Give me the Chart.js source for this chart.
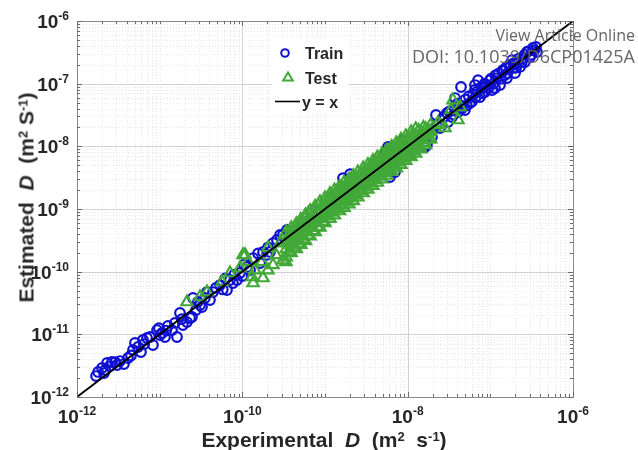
<!DOCTYPE html>
<html><head><meta charset="utf-8">
<script src="https://cdn.jsdelivr.net/npm/chart.js@4/dist/chart.umd.min.js"></script>
<style>
html,body{margin:0;padding:0;background:#fff;}
#wrap{position:relative;width:638px;height:450px;overflow:hidden;background:#fff;}
canvas{position:absolute;left:0;top:0;}
.t{position:absolute;font-family:"Liberation Sans",Arial,sans-serif;font-weight:bold;color:#262626;white-space:pre;line-height:21px;font-size:21px;text-align:center;}
.sup{position:relative;top:-0.5em;font-size:13px;}
.wm{position:absolute;right:3px;font-family:"Open Sans",sans-serif;color:#666;white-space:pre;font-weight:400;}
</style></head>
<body><div id="wrap"><canvas id="c" width="638" height="450"></canvas>
<div class="t" style="left:24px;top:429px;width:600px;">Experimental  <i>D</i>  (m<span class="sup">2</span>  s<span class="sup">-1</span>)</div>
<div class="t" style="left:-124px;top:187px;width:300px;height:21px;transform:rotate(-90deg);">Estimated  <i>D</i>  (m<span class="sup">2</span> S<span class="sup">-1</span>)</div>
<div class="wm" style="top:27px;font-size:16px;line-height:16px;">View Article Online</div>
<div class="wm" style="top:47px;font-size:18px;line-height:18px;">DOI: 10.1039/D6CP01425A</div>
</div>
<script>
// ---- data ----
const trainX = [1.70e-12,1.80e-12,2.01e-12,2.12e-12,2.31e-12,2.51e-12,2.65e-12,3.05e-12,3.31e-12,3.70e-12,
 4.14e-12,4.76e-12,5.03e-12,5.47e-12,5.94e-12,6.29e-12,7.03e-12,7.64e-12,8.30e-12,9.29e-12,
 1.01e-11,1.07e-11,1.16e-11,1.26e-11,1.41e-11,1.53e-11,1.62e-11,1.76e-11,1.91e-11,2.14e-11,
 2.33e-11,2.46e-11,2.53e-11,2.75e-11,3.08e-11,3.25e-11,3.53e-11,3.74e-11,4.06e-11,4.42e-11,
 5.37e-11,6.52e-11,7.10e-11,8.61e-11,9.37e-11,1.14e-10,1.35e-10,1.78e-10,1.99e-10,2.35e-10,
 2.86e-10,3.47e-10,1.64e-10,2.16e-10,2.62e-10,3.10e-10,7.71e-11,1.24e-10,4.99e-10,6.97e-10,
 8.69e-10,1.65e-9,2.01e-9,5.78e-9,7.03e-9,6.11e-9,1.71e-8,2.26e-8,2.99e-8,1.97e-8,
 1.62e-8,5.47e-9,5.73e-10,1.15e-9,2.65e-9,4.03e-9,1.07e-8,8.77e-9,3.74e-8,7.10e-8,
 3.28e-7,2.10e-7,1.42e-7,9.12e-8,1.21e-7,1.73e-7,2.48e-7,2.77e-7,5.68e-8,7.50e-8,
 1.05e-7,1.31e-7,1.59e-7,1.99e-7,2.29e-7,3.02e-7,3.66e-7,4.93e-8,3.44e-8,3.08e-8,
 4.30e-8,6.17e-8,8.15e-8,3.56e-7,1.83e-7,9.91e-8,6.52e-8,2.67e-8,4.06e-8,1.50e-7,
 1.14e-7,8.61e-8,2.62e-7,2.46e-8,2.20e-8,4.42e-8,6.52e-8,1.93e-7,1.55e-10,2.05e-10,
 2.8e-8,3.2e-8,3.6e-8,4.0e-8,4.5e-8,5.0e-8,5.5e-8,6.0e-8,7.0e-8,7.8e-8,
 8.5e-8,9.5e-8,1.02e-7,1.1e-7,1.25e-7,1.35e-7,1.45e-7,1.6e-7,1.7e-7,1.9e-7,
 2.05e-7,2.2e-7,2.4e-7,2.6e-7,2.9e-7,3.1e-7,3.4e-7,5.2e-8,6.6e-8,8.0e-8,
 1.15e-7,1.55e-7,2.2e-12,2.9e-12,4.5e-12,6.5e-12,9.8e-12,1.2e-11,1.85e-11,2.9e-11,
 4.8e-11,5.8e-11,6.2e-11,8.0e-11,1.0e-10,1.05e-10];
const trainY = [2.16e-12,2.51e-12,2.90e-12,2.41e-12,3.49e-12,3.12e-12,3.62e-12,3.24e-12,3.75e-12,3.36e-12,
 4.19e-12,5.62e-12,7.27e-12,6.28e-12,5.22e-12,8.12e-12,8.74e-12,9.06e-12,6.76e-12,1.17e-11,
 9.76e-12,1.05e-11,9.06e-12,1.36e-11,1.17e-11,1.52e-11,9.06e-12,2.19e-11,1.41e-11,1.57e-11,
 1.82e-11,1.89e-11,3.80e-11,2.44e-11,2.94e-11,2.73e-11,3.80e-11,4.73e-11,3.53e-11,4.73e-11,
 6.12e-11,5.10e-11,7.36e-11,7.36e-11,9.52e-11,1.19e-10,1.65e-10,2.06e-10,1.85e-10,2.86e-10,
 3.85e-10,4.62e-10,1.37e-10,2.06e-10,3.20e-10,3.85e-10,6.59e-11,1.06e-10,4.98e-10,9.63e-10,
 8.95e-10,3.10e-9,3.60e-9,9.75e-9,3.89e-9,3.24e-9,1.05e-8,2.19e-8,3.40e-8,1.41e-8,
 9.75e-9,8.11e-9,6.20e-10,1.16e-9,2.42e-9,4.19e-9,8.73e-9,1.26e-8,5.90e-8,1.14e-7,
 3.71e-7,2.14e-7,1.65e-7,9.51e-8,1.23e-7,1.85e-7,2.57e-7,3.20e-7,4.91e-8,6.12e-8,
 7.92e-8,9.51e-8,1.23e-7,1.48e-7,1.85e-7,2.66e-7,3.20e-7,3.80e-8,2.94e-8,2.44e-8,
 4.56e-8,6.59e-8,8.53e-8,3.85e-7,2.38e-7,1.14e-7,7.92e-8,2.83e-8,3.53e-8,1.37e-7,
 8.53e-8,7.36e-8,2.21e-7,1.96e-8,3.16e-8,8.85e-8,9.51e-8,1.78e-7,1.95e-10,2.45e-10,
 3.0e-8,3.6e-8,3.2e-8,4.8e-8,4.0e-8,5.6e-8,6.3e-8,5.2e-8,7.6e-8,8.8e-8,
 1.0e-7,8.5e-8,1.2e-7,1.0e-7,1.45e-7,1.2e-7,1.6e-7,1.45e-7,2.0e-7,2.1e-7,
 1.8e-7,2.5e-7,2.2e-7,2.9e-7,3.3e-7,2.9e-7,3.4e-7,4.5e-8,6.0e-8,7.0e-8,
 1.35e-7,1.8e-7,2.7e-12,3.6e-12,4.6e-12,7.0e-12,1.25e-11,1.15e-11,1.75e-11,3.3e-11,
 5.5e-11,5.2e-11,7.8e-11,9.0e-11,8.5e-11,1.3e-10];

const testX = [2.14e-11,3.74e-11,5.68e-11,7.10e-11,1.08e-10,9.37e-11,1.35e-10,1.42e-10,1.78e-10,2.04e-10,
 2.35e-10,3.10e-10,3.77e-10,4.10e-10,1.17e-10,1.02e-10,2.55e-10,2.04e-10,2.86e-10,1.31e-10,
 3.37e-10,1.73e-10,3.08e-11,
 3.4e-10,3.4e-10,3.4e-10,3.4e-10, 3.9e-10,3.9e-10,3.9e-10,3.9e-10, 4.5e-10,4.5e-10,4.5e-10,4.5e-10,
 5.1e-10,5.1e-10,5.1e-10,5.1e-10, 5.8e-10,5.8e-10,5.8e-10,5.8e-10, 6.6e-10,6.6e-10,6.6e-10,6.6e-10,
 7.6e-10,7.6e-10,7.6e-10,7.6e-10, 8.7e-10,8.7e-10,8.7e-10,8.7e-10, 1.0e-9,1.0e-9,1.0e-9,1.0e-9,
 1.15e-9,1.15e-9,1.15e-9,1.15e-9, 1.3e-9,1.3e-9,1.3e-9,1.3e-9, 1.5e-9,1.5e-9,1.5e-9,1.5e-9,
 1.7e-9,1.7e-9,1.7e-9,1.7e-9, 1.95e-9,1.95e-9,1.95e-9,1.95e-9, 2.2e-9,2.2e-9,2.2e-9,2.2e-9,
 2.5e-9,2.5e-9,2.5e-9,2.5e-9, 2.9e-9,2.9e-9,2.9e-9,2.9e-9, 3.3e-9,3.3e-9,3.3e-9,3.3e-9,
 3.8e-9,3.8e-9,3.8e-9,3.8e-9, 4.3e-9,4.3e-9,4.3e-9,4.3e-9, 4.9e-9,4.9e-9,4.9e-9,4.9e-9,
 5.6e-9,5.6e-9,5.6e-9,5.6e-9, 6.4e-9,6.4e-9,6.4e-9,6.4e-9, 7.3e-9,7.3e-9,7.3e-9,7.3e-9,
 8.3e-9,8.3e-9,8.3e-9,8.3e-9, 9.5e-9,9.5e-9,9.5e-9,9.5e-9, 1.1e-8,1.1e-8,1.1e-8,1.1e-8,
 1.25e-8,1.25e-8,1.25e-8,1.25e-8, 1.45e-8,1.45e-8,1.45e-8, 1.65e-8,1.65e-8,1.65e-8, 1.9e-8,1.9e-8,1.9e-8,
 3.34e-8,2.83e-8,4.30e-8,2.33e-8,3.53e-8,4.06e-8,2.46e-8,1.86e-8,
 3.65e-10,3.65e-10,3.65e-10, 4.2e-10,4.2e-10,4.2e-10, 4.8e-10,4.8e-10,4.8e-10, 5.45e-10,5.45e-10,5.45e-10,
 6.2e-10,6.2e-10,6.2e-10, 7.1e-10,7.1e-10,7.1e-10, 8.1e-10,8.1e-10,8.1e-10, 9.3e-10,9.3e-10,9.3e-10,
 1.07e-9,1.07e-9,1.07e-9, 1.22e-9,1.22e-9,1.22e-9, 1.4e-9,1.4e-9,1.4e-9, 1.6e-9,1.6e-9,1.6e-9,
 1.82e-9,1.82e-9,1.82e-9, 2.07e-9,2.07e-9,2.07e-9, 2.35e-9,2.35e-9,2.35e-9, 2.7e-9,2.7e-9,2.7e-9,
 3.1e-9,3.1e-9,3.1e-9, 3.55e-9,3.55e-9,3.55e-9, 4.05e-9,4.05e-9,4.05e-9, 4.6e-9,4.6e-9,4.6e-9,
 5.25e-9,5.25e-9,5.25e-9, 6.0e-9,6.0e-9,6.0e-9, 6.85e-9,6.85e-9,6.85e-9, 7.8e-9,7.8e-9,7.8e-9,
 8.9e-9,8.9e-9,8.9e-9, 1.02e-8,1.02e-8,1.02e-8, 1.17e-8,1.17e-8,1.17e-8, 1.35e-8,1.35e-8,1.35e-8,
 1.55e-8,1.55e-8,1.55e-8, 1.77e-8,1.77e-8];
const testY = [3.28e-11,4.73e-11,6.84e-11,9.52e-11,1.85e-10,1.14e-10,6.59e-11,1.06e-10,7.92e-11,1.06e-10,
 1.28e-10,1.53e-10,2.06e-10,2.66e-10,1.43e-10,1.85e-10,1.85e-10,2.39e-10,2.86e-10,8.22e-11,
 1.43e-10,1.43e-10,3.94e-11,
 1.7e-10,2.3e-10,3.1e-10,4.3e-10, 2.0e-10,2.7e-10,3.6e-10,5.0e-10, 2.3e-10,3.2e-10,4.2e-10,5.8e-10,
 2.7e-10,3.7e-10,4.9e-10,6.8e-10, 3.1e-10,4.3e-10,5.7e-10,8.0e-10, 3.7e-10,5.1e-10,6.7e-10,9.4e-10,
 4.3e-10,6.0e-10,8.0e-10,1.1e-9, 5.1e-10,7.0e-10,9.4e-10,1.3e-9, 6.0e-10,8.3e-10,1.1e-9,1.5e-9,
 7.0e-10,9.7e-10,1.3e-9,1.75e-9, 8.0e-10,1.1e-9,1.5e-9,2.0e-9, 9.3e-10,1.3e-9,1.7e-9,2.3e-9,
 1.05e-9,1.45e-9,1.95e-9,2.65e-9, 1.2e-9,1.65e-9,2.25e-9,3.0e-9, 1.35e-9,1.9e-9,2.55e-9,3.4e-9,
 1.55e-9,2.15e-9,2.9e-9,3.9e-9, 1.8e-9,2.45e-9,3.35e-9,4.5e-9, 2.05e-9,2.8e-9,3.8e-9,5.1e-9,
 2.35e-9,3.2e-9,4.4e-9,5.9e-9, 2.65e-9,3.65e-9,4.95e-9,6.7e-9, 3.0e-9,4.15e-9,5.6e-9,7.6e-9,
 3.45e-9,4.75e-9,6.4e-9,8.7e-9, 3.95e-9,5.45e-9,7.35e-9,9.9e-9, 4.5e-9,6.2e-9,8.4e-9,1.13e-8,
 5.1e-9,7.05e-9,9.5e-9,1.29e-8, 5.9e-9,8.1e-9,1.09e-8,1.47e-8, 6.8e-9,9.3e-9,1.26e-8,1.7e-8,
 7.7e-9,1.06e-8,1.44e-8,1.9e-8, 9.0e-9,1.25e-8,1.65e-8, 1.05e-8,1.45e-8,1.9e-8, 1.3e-8,1.75e-8,2.2e-8,
 3.80e-8,1.96e-8,4.24e-8,2.36e-8,5.48e-8,2.63e-8,2.19e-8,1.69e-8,
 2.1e-10,2.9e-10,3.9e-10, 2.45e-10,3.35e-10,4.5e-10, 2.8e-10,3.85e-10,5.2e-10, 3.3e-10,4.5e-10,6.0e-10,
 3.8e-10,5.2e-10,7.0e-10, 4.5e-10,6.1e-10,8.2e-10, 5.2e-10,7.0e-10,9.4e-10, 6.3e-10,8.4e-10,1.13e-9,
 7.7e-10,1.02e-9,1.37e-9, 8.8e-10,1.16e-9,1.56e-9, 1.0e-9,1.4e-9,1.86e-9, 1.15e-9,1.6e-9,2.13e-9,
 1.31e-9,1.82e-9,2.42e-9, 1.49e-9,2.07e-9,2.75e-9, 1.69e-9,2.35e-9,3.13e-9, 1.94e-9,2.7e-9,3.6e-9,
 2.23e-9,3.1e-9,4.1e-9, 2.55e-9,3.55e-9,4.7e-9, 2.9e-9,4.05e-9,5.4e-9, 3.3e-9,4.6e-9,6.1e-9,
 3.8e-9,5.25e-9,7.0e-9, 4.3e-9,6.0e-9,8.0e-9, 4.9e-9,6.85e-9,9.1e-9, 5.6e-9,7.8e-9,1.04e-8,
 6.4e-9,8.9e-9,1.18e-8, 7.3e-9,1.02e-8,1.36e-8, 8.4e-9,1.17e-8,1.55e-8, 9.7e-9,1.35e-8,1.8e-8,
 1.15e-8,1.55e-8,2.0e-8, 1.3e-8,1.77e-8];

const lineX = [1e-12, 1e-6];
const lineY = [1e-12, 1e-6];

const xTickValues = [1e-12, 1e-10, 1e-8, 1e-6];
const xTickExps = ['-12', '-10', '-8', '-6'];
const yTickValues = [1e-12, 1e-11, 1e-10, 1e-9, 1e-8, 1e-7, 1e-6];
const yTickExps = ['-12', '-11', '-10', '-9', '-8', '-7', '-6'];
const decadeStarts = [1e-12, 1e-11, 1e-10, 1e-9, 1e-8, 1e-7];
const minorMantissas = [2, 3, 4, 5, 6, 7, 8, 9];
const legendLabels = ['Train', 'Test', 'y = x'];

const BLUE = '#1010d2', GREEN = '#42a838';
const pts = (xs, ys) => xs.map((v, i) => ({x: v, y: ys[i]}));
const FONT = '"Liberation Sans", Arial, sans-serif';

function minorVals(){ const out=[]; decadeStarts.forEach(d=>minorMantissas.forEach(m=>out.push(m*d))); return out; }

const gridPlugin = {
  id: 'gridPlugin',
  beforeDatasetsDraw(chart){
    const {ctx, chartArea: a, scales: {x, y}} = chart;
    ctx.save();
    ctx.lineWidth = 1;
    ctx.strokeStyle = '#e6e6e6'; ctx.setLineDash([1, 2]);
    const xm = minorVals().concat([1e-11, 1e-9, 1e-7]);
    xm.forEach(v => { const p = Math.round(x.getPixelForValue(v)) + 0.5; ctx.beginPath(); ctx.moveTo(p, a.top); ctx.lineTo(p, a.bottom); ctx.stroke(); });
    minorVals().forEach(v => { const p = Math.round(y.getPixelForValue(v)) + 0.5; ctx.beginPath(); ctx.moveTo(a.left, p); ctx.lineTo(a.right, p); ctx.stroke(); });
    ctx.setLineDash([]); ctx.strokeStyle = '#d2d2d2';
    xTickValues.forEach(v => { const p = Math.round(x.getPixelForValue(v)) + 0.5; ctx.beginPath(); ctx.moveTo(p, a.top); ctx.lineTo(p, a.bottom); ctx.stroke(); });
    yTickValues.forEach(v => { const p = Math.round(y.getPixelForValue(v)) + 0.5; ctx.beginPath(); ctx.moveTo(a.left, p); ctx.lineTo(a.right, p); ctx.stroke(); });
    ctx.restore();
  },
  afterDraw(chart){
    const {ctx, chartArea: a, scales: {x, y}} = chart;
    ctx.save();
    ctx.strokeStyle = '#8a8a8a'; ctx.lineWidth = 1;
    ctx.strokeRect(Math.round(a.left)+0.5, Math.round(a.top)+0.5, Math.round(a.right-a.left), Math.round(a.bottom-a.top));
    ctx.strokeStyle = '#6a6a6a';
    const tickX = (v, len) => { const p = Math.round(x.getPixelForValue(v))+0.5; ctx.beginPath(); ctx.moveTo(p, a.bottom); ctx.lineTo(p, a.bottom-len); ctx.moveTo(p, a.top); ctx.lineTo(p, a.top+len); ctx.stroke(); };
    const tickY = (v, len) => { const p = Math.round(y.getPixelForValue(v))+0.5; ctx.beginPath(); ctx.moveTo(a.left, p); ctx.lineTo(a.left+len, p); ctx.moveTo(a.right, p); ctx.lineTo(a.right-len, p); ctx.stroke(); };
    minorVals().concat([1e-11,1e-9,1e-7]).forEach(v => tickX(v, 3));
    xTickValues.forEach(v => tickX(v, 5));
    minorVals().forEach(v => tickY(v, 3));
    yTickValues.forEach(v => tickY(v, 5));
    ctx.fillStyle = '#262626'; ctx.textBaseline = 'alphabetic'; ctx.textAlign = 'left';
    const lab = (exp, px, py, align) => {
      ctx.font = 'bold 19px ' + FONT; const w1 = ctx.measureText('10').width;
      ctx.font = 'bold 12px ' + FONT; const w2 = ctx.measureText(exp).width;
      const x0 = align === 'right' ? px - w1 - w2 : px - (w1 + w2) / 2;
      ctx.font = 'bold 19px ' + FONT; ctx.fillText('10', x0, py);
      ctx.font = 'bold 12px ' + FONT; ctx.fillText(exp, x0 + w1, py - 8);
    };
    xTickValues.forEach((v, i) => lab(xTickExps[i], x.getPixelForValue(v), 423, 'center'));
    yTickValues.forEach((v, i) => lab(yTickExps[i], 69, y.getPixelForValue(v) + 7, 'right'));
    // legend
    ctx.fillStyle = '#ffffff'; ctx.fillRect(272, 38, 77, 76);
    ctx.lineWidth = 2;
    ctx.strokeStyle = BLUE; ctx.beginPath(); ctx.arc(285, 53, 3.8, 0, Math.PI*2); ctx.stroke();
    ctx.strokeStyle = GREEN; ctx.beginPath(); ctx.moveTo(288, 72.5); ctx.lineTo(292.8, 80.5); ctx.lineTo(283.2, 80.5); ctx.closePath(); ctx.stroke();
    ctx.strokeStyle = '#000'; ctx.lineWidth = 1.6; ctx.beginPath(); ctx.moveTo(275, 101.5); ctx.lineTo(300, 101.5); ctx.stroke();
    ctx.fillStyle = '#262626'; ctx.font = 'bold 16px ' + FONT;
    ctx.fillText(legendLabels[0], 305, 59);
    ctx.fillText(legendLabels[1], 305, 83.5);
    ctx.fillText(legendLabels[2], 302, 107.5);
    ctx.restore();
  }
};

new Chart(document.getElementById('c'), {
  type: 'scatter',
  data: { datasets: [
    { label: 'y = x', data: pts(lineX, lineY), showLine: true, pointRadius: 0, borderColor: '#000', borderWidth: 1.8, order: 0 },
    { label: 'Test', data: pts(testX, testY), pointStyle: 'triangle', pointRadius: 6.5, borderColor: GREEN, backgroundColor: 'rgba(0,0,0,0)', borderWidth: 2.2, order: 1 },
    { label: 'Train', data: pts(trainX, trainY), pointStyle: 'circle', pointRadius: 4.8, borderColor: BLUE, backgroundColor: 'rgba(0,0,0,0)', borderWidth: 2.2, order: 2 }
  ]},
  options: {
    responsive: false, animation: false, devicePixelRatio: 1,
    layout: { padding: { left: 77, right: 65, top: 21, bottom: 53 } },
    scales: {
      x: { type: 'logarithmic', min: 1e-12, max: 1e-6, display: false },
      y: { type: 'logarithmic', min: 1e-12, max: 1e-6, display: false }
    },
    plugins: { legend: { display: false }, tooltip: { enabled: false } }
  },
  plugins: [gridPlugin]
});
</script>
</body></html>
